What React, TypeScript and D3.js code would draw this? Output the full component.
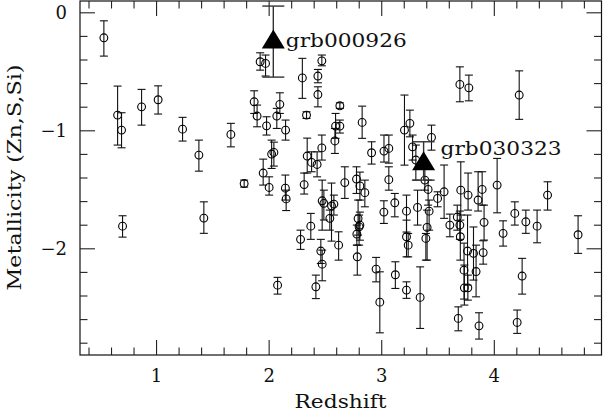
import React from "react";
import * as d3 from "d3";

const redshift = [0.532,0.654,0.689,0.698,0.867,1.014,1.231,1.376,1.420,1.660,1.778,1.920,1.968,2.295,2.468,2.433,2.433,1.867,1.893,1.977,2.095,2.068,2.146,2.332,2.628,2.590,2.628,2.584,2.826,2.022,2.042,1.947,2.000,2.144,2.151,2.311,2.338,2.377,2.426,2.468,2.910,3.020,3.063,2.672,2.776,2.806,2.850,3.063,2.471,2.486,2.554,2.575,2.539,2.370,2.279,2.459,2.471,2.415,2.075,2.617,2.790,2.806,2.799,2.779,2.783,3.019,3.116,2.950,2.983,3.121,3.202,3.250,3.442,3.274,3.303,3.383,3.412,3.496,3.554,3.694,3.774,4.221,3.702,3.671,3.605,3.694,3.698,3.767,3.892,4.025,4.473,3.856,3.909,3.762,3.815,3.901,3.731,3.838,3.734,3.765,3.220,3.341,3.680,3.864,4.203,4.247,4.078,4.182,4.280,4.380,4.744,3.220,3.318,3.421,3.220,3.235,3.403,3.392];
const metallicity = [-0.212,-0.867,-0.994,-1.808,-0.797,-0.737,-0.986,-1.206,-1.740,-1.031,-1.447,-0.415,-0.429,-0.552,-0.407,-0.536,-0.693,-0.754,-0.875,-0.958,-0.776,-0.875,-0.994,-0.867,-0.788,-0.960,-0.960,-1.086,-0.929,-1.197,-1.183,-1.358,-1.480,-1.486,-1.577,-1.456,-1.214,-1.268,-1.285,-1.145,-1.186,-1.172,-1.149,-1.439,-1.409,-1.467,-1.524,-1.414,-1.593,-1.615,-1.636,-1.621,-1.742,-1.808,-1.920,-2.019,-2.130,-2.322,-2.308,-1.969,-1.744,-1.799,-1.814,-1.875,-2.068,-1.689,-1.610,-2.172,-2.452,-2.220,-0.994,-0.937,-1.056,-1.136,-1.248,-1.418,-1.497,-1.573,-1.517,-0.607,-0.636,-0.697,-1.503,-1.731,-1.799,-1.799,-1.898,-1.545,-1.497,-1.460,-1.545,-1.587,-1.776,-2.019,-2.039,-2.032,-2.181,-2.193,-2.331,-2.331,-2.350,-2.412,-2.590,-2.653,-2.624,-2.231,-1.869,-1.700,-1.771,-1.808,-1.881,-1.681,-1.649,-1.681,-1.898,-1.969,-1.819,-1.912];
const errHigh = [-0.068,-0.621,-0.847,-1.720,-0.649,-0.619,-0.886,-1.079,-1.602,-0.937,-1.418,-0.339,-0.358,-0.386,-0.358,-0.480,-0.627,-0.661,-0.782,-0.881,-0.678,-0.810,-0.909,-0.839,-0.763,-0.853,-0.909,-0.980,-0.791,-1.079,-1.096,-1.240,-1.390,-1.375,-1.503,-1.358,-1.062,-1.178,-1.178,-1.036,-1.093,-1.036,-1.036,-1.305,-1.305,-1.350,-1.418,-1.305,-1.418,-1.503,-1.443,-1.545,-1.672,-1.700,-1.842,-1.920,-2.011,-2.223,-2.242,-1.856,-1.587,-1.689,-1.714,-1.799,-1.969,-1.593,-1.531,-2.073,-2.195,-2.110,-0.697,-0.825,-0.952,-1.036,-1.121,-1.319,-1.418,-1.517,-1.290,-0.458,-0.528,-0.492,-1.263,-1.630,-1.706,-1.680,-1.757,-1.358,-1.347,-1.234,-1.432,-1.347,-1.630,-1.714,-1.815,-1.932,-1.952,-1.969,-2.138,-2.223,-2.280,-2.153,-2.492,-2.542,-2.519,-2.081,-1.763,-1.602,-1.672,-1.672,-1.720,-1.545,-1.503,-1.587,-1.757,-1.870,-1.672,-1.870];
const errLow = [-0.367,-1.121,-1.144,-1.901,-0.952,-0.858,-1.087,-1.342,-1.869,-1.136,-1.477,-0.486,-0.536,-0.725,-0.449,-0.593,-0.797,-0.853,-0.966,-1.036,-0.853,-0.980,-1.079,-0.895,-0.810,-1.064,-1.019,-1.192,-1.064,-1.319,-1.299,-1.460,-1.545,-1.587,-1.676,-1.536,-1.358,-1.347,-1.390,-1.248,-1.282,-1.265,-1.274,-1.573,-1.531,-1.587,-1.644,-1.503,-1.842,-1.756,-1.935,-1.714,-1.842,-1.920,-2.005,-2.124,-2.271,-2.422,-2.384,-2.096,-1.884,-1.927,-1.969,-1.969,-2.223,-1.785,-1.729,-2.280,-2.712,-2.336,-1.291,-1.051,-1.164,-1.248,-1.418,-1.503,-1.630,-1.644,-1.742,-0.754,-0.746,-0.903,-1.714,-1.842,-1.898,-1.920,-2.096,-1.672,-1.630,-1.695,-1.672,-1.680,-1.926,-2.308,-2.265,-2.130,-2.426,-2.407,-2.477,-2.435,-2.420,-2.675,-2.695,-2.765,-2.717,-2.384,-1.977,-1.799,-1.869,-1.949,-2.039,-1.858,-1.799,-1.842,-2.068,-2.068,-2.096,-2.096];

const grbNames = ["grb000926", "grb030323"];
const grbRedshift = [2.037, 3.372];
const grbMetal = [-0.244, -1.274];
const grbHigh = [0.057, -1.093];
const grbLow = [-0.545, -1.418];

const xTickLabels = ["1", "2", "3", "4"];
const yTickLabels = ["0", "−1", "−2"];

const W = 603, H = 410;
const L = 80, R = 601.5, T = 1, B = 355;
const FONT = "'DejaVu Serif', 'Liberation Serif', serif";

export default function App() {
  const x = d3.scaleLinear().domain([0.32, 4.952]).range([L, R]);
  const y = d3.scaleLinear().domain([-2.9, 0.1]).range([B, T]);

  const xMinor = d3.range(4, 50, 2).map((v) => v / 10);
  const yMinor = d3.range(-28, 1, 2).map((v) => v / 10);
  const xMajor = [1, 2, 3, 4];
  const yMajor = [0, -1, -2];
  const isInt = (v: number) => Math.abs(v - Math.round(v)) < 1e-6;

  const tickColor = "#222";
  const cap = 4;
  const grbCap = 11;
  const labelOffsets = [
    { dx: 12.5, dy: 5 },
    { dx: 17, dy: -8 },
  ];
  const labelLens = [121, 121];

  return (
    <svg
      width={W}
      height={H}
      style={{ position: "absolute", left: 0, top: 0, background: "#fff" }}
      fontFamily={FONT}
    >
      <rect x={0} y={0} width={W} height={H} fill="#fff" />
      {/* frame */}
      <rect x={L} y={T} width={R - L} height={B - T} fill="none" stroke="#111" strokeWidth={1.2} />
      {/* x ticks */}
      {xMinor.map((v, i) => {
        const len = isInt(v) ? 15 : 7.5;
        return (
          <g key={"xt" + i} stroke={tickColor} strokeWidth={1.1}>
            <line x1={x(v)} x2={x(v)} y1={B} y2={B - len} />
            <line x1={x(v)} x2={x(v)} y1={T} y2={T + len} />
          </g>
        );
      })}
      {yMinor.map((v, i) => {
        const len = isInt(v) ? 15 : 7.5;
        return (
          <g key={"yt" + i} stroke={tickColor} strokeWidth={1.1}>
            <line x1={L} x2={L + len} y1={y(v)} y2={y(v)} />
            <line x1={R} x2={R - len} y1={y(v)} y2={y(v)} />
          </g>
        );
      })}
      {xMajor.map((v, i) => (
        <text key={"xl" + i} x={x(v)} y={381.7} textAnchor="middle" fontSize={18} fill="#111">
          {xTickLabels[i]}
        </text>
      ))}
      {yMajor.map((v, i) => (
        <text key={"yl" + i} x={67} y={y(v) + 6.4} textAnchor="end" fontSize={18} fill="#111">
          {yTickLabels[i]}
        </text>
      ))}
      <text x={340.5} y={407.5} textAnchor="middle" fontSize={18} fill="#111" textLength={92} lengthAdjust="spacingAndGlyphs">
        Redshift
      </text>
      <text
        transform={`translate(21,177.5) rotate(-90)`}
        textAnchor="middle"
        fontSize={18}
        fill="#111"
        textLength={226}
        lengthAdjust="spacingAndGlyphs"
      >
        Metallicity (Zn,S,Si)
      </text>

      {/* data error bars */}
      <g stroke="#111" strokeWidth={1.1} fill="none">
        {redshift.map((z, i) => {
          const cx = x(z);
          const y1 = y(errHigh[i]);
          const y2 = y(errLow[i]);
          return (
            <g key={"e" + i}>
              <line x1={cx} x2={cx} y1={y1} y2={y2} />
              <line x1={cx - cap} x2={cx + cap} y1={y1} y2={y1} />
              <line x1={cx - cap} x2={cx + cap} y1={y2} y2={y2} />
            </g>
          );
        })}
      </g>
      <g stroke="#000" strokeWidth={1.1} fill="none">
        {redshift.map((z, i) => (
          <circle key={"c" + i} cx={x(z)} cy={y(metallicity[i])} r={3.9} />
        ))}
      </g>

      {/* GRBs */}
      {grbRedshift.map((z, i) => {
        const cx = x(z);
        const cy = y(grbMetal[i]);
        const y1 = y(grbHigh[i]);
        const y2 = y(grbLow[i]);
        const tri = `M${cx},${cy - 12} L${cx + 11.5},${cy + 7} L${cx - 11.5},${cy + 7} Z`;
        return (
          <g key={"g" + i}>
            <g stroke="#333" strokeWidth={1.4}>
              <line x1={cx} x2={cx} y1={y1} y2={y2} />
              <line x1={cx - grbCap} x2={cx + grbCap} y1={y1} y2={y1} />
              <line x1={cx - grbCap} x2={cx + grbCap} y1={y2} y2={y2} />
            </g>
            <path d={tri} fill="#000" />
            <text
              x={cx + labelOffsets[i].dx}
              y={cy + labelOffsets[i].dy}
              fontSize={18}
              fill="#111"
              textLength={labelLens[i]}
              lengthAdjust="spacingAndGlyphs"
            >
              {grbNames[i]}
            </text>
          </g>
        );
      })}
    </svg>
  );
}
